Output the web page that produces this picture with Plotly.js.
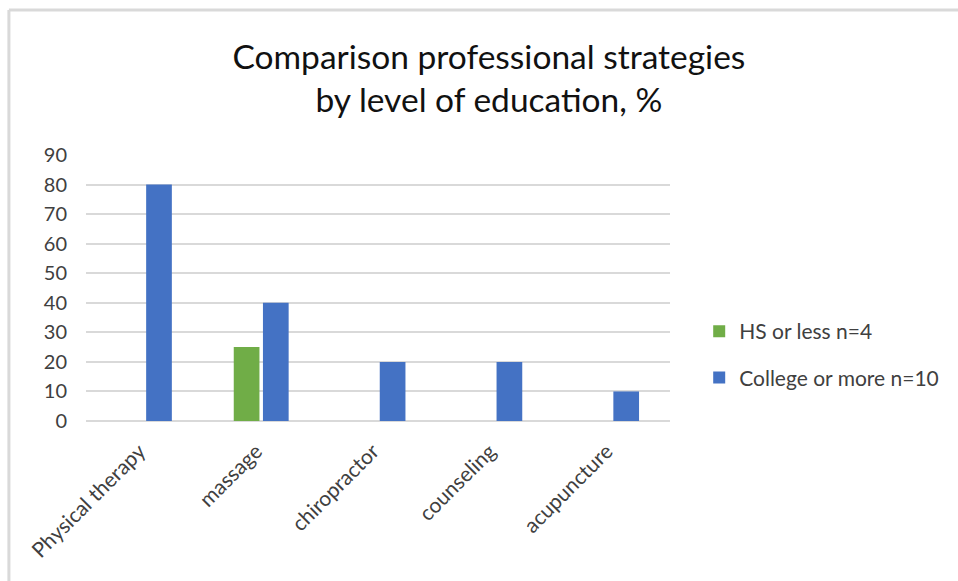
<!DOCTYPE html>
<html>
<head>
<meta charset="utf-8">
<script src="https://cdn.plot.ly/plotly-3.0.1.min.js"></script>
<style>html,body{margin:0;padding:0;background:#fff;}#chart{width:958px;height:581px;}</style>
</head>
<body>
<div id="chart"></div>
<script>
const categories = ["Physical therapy", "massage", "chiropractor", "counseling", "acupuncture"];
const hsOrLess = [0, 25, 0, 0, 0];
const collegeOrMore = [80, 40, 20, 20, 10];
const seriesNames = ["HS or less n=4", "College or more n=10"];
const yTicks = [0, 10, 20, 30, 40, 50, 60, 70, 80, 90];

const font = "Lato, 'Open Sans', sans-serif";
const traces = [
  {type: "bar", name: seriesNames[0], x: categories, y: hsOrLess, marker: {color: "#70ad47"}, legendgroup: "a"},
  {type: "bar", name: seriesNames[1], x: categories, y: collegeOrMore, marker: {color: "#4472c4"}, legendgroup: "b"}
];
const layout = {
  width: 958, height: 581,
  margin: {l: 86, r: 288, t: 155, b: 160},
  paper_bgcolor: "#ffffff", plot_bgcolor: "#ffffff",
  font: {family: font, color: "#404040", size: 20},
  title: {text: "Comparison professional strategies<br>by level of education, %", font: {family: font, size: 33.5, color: "#111111"},
          xref: "paper", x: 0.69, xanchor: "center", yref: "container", y: 0.882, yanchor: "middle"},
  barmode: "group", bargap: 0.5, bargroupgap: 0.12,
  xaxis: {type: "category", tickangle: -45, showgrid: false, showline: false, ticks: "",
          ticklabelshift: -5, ticklabelstandoff: 13, tickfont: {size: 21, color: "#404040"}},
  yaxis: {range: [0, 90], tickvals: yTicks, showgrid: true, gridcolor: "#d9d9d9", gridwidth: 2,
          zeroline: true, zerolinecolor: "#d9d9d9", zerolinewidth: 2, ticks: "", ticklabelstandoff: 18,
          tickfont: {size: 20, color: "#404040"}},
  showlegend: true,
  legend: {x: 1.05, xanchor: "left", y: 0.25, yanchor: "middle", font: {size: 21, color: "#404040"},
           traceorder: "grouped", tracegroupgap: 16, itemwidth: 30},
  shapes: [
    {type: "line", xref: "paper", yref: "paper", x0: -0.132, x1: 1.5, y0: 1.545, y1: 1.545, line: {color: "#d9d9d9", width: 3}},
    {type: "line", xref: "paper", yref: "paper", x0: -0.132, x1: -0.132, y0: 1.545, y1: -0.62, line: {color: "#d9d9d9", width: 3}}
  ]
};
Plotly.newPlot("chart", traces, layout, {displayModeBar: false, staticPlot: true});
</script>
</body>
</html>
